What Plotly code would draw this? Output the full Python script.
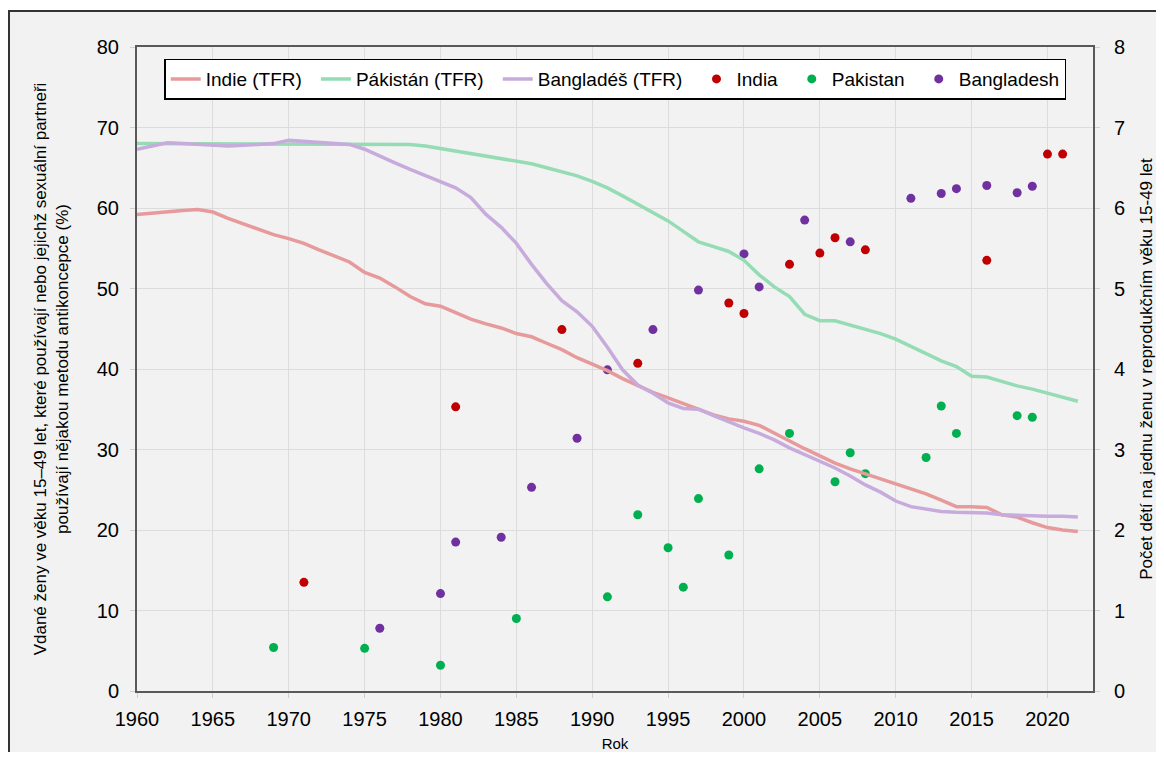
import plotly.graph_objects as go

# ---- data ----
years_tfr = list(range(1960, 2023))

india_tfr = [5.92, 5.94, 5.95, 5.97, 5.98, 5.95, 5.87, 5.80, 5.73, 5.67,
             5.62, 5.56, 5.48, 5.41, 5.33, 5.20, 5.13, 5.02, 4.90, 4.81,
             4.78, 4.70, 4.62, 4.56, 4.51, 4.44, 4.40, 4.32, 4.24, 4.14,
             4.06, 3.98, 3.88, 3.79, 3.71, 3.64, 3.57, 3.50, 3.43, 3.38,
             3.35, 3.30, 3.20, 3.10, 3.01, 2.92, 2.83, 2.76, 2.70, 2.64,
             2.57, 2.51, 2.45, 2.37, 2.29, 2.29, 2.28, 2.19, 2.16, 2.09,
             2.03, 2.00, 1.98]

pakistan_tfr = [6.80, 6.80, 6.80, 6.80, 6.80, 6.80, 6.80, 6.80, 6.80, 6.80,
                6.80, 6.80, 6.80, 6.80, 6.80, 6.80, 6.80, 6.80, 6.79, 6.77,
                6.74, 6.71, 6.68, 6.65, 6.62, 6.59, 6.55, 6.50, 6.45, 6.40,
                6.33, 6.25, 6.15, 6.05, 5.95, 5.84, 5.71, 5.58, 5.52, 5.46,
                5.35, 5.17, 5.02, 4.90, 4.68, 4.60, 4.60, 4.55, 4.50, 4.44,
                4.37, 4.28, 4.18, 4.10, 4.03, 3.91, 3.90, 3.84, 3.79, 3.75,
                3.70, 3.65, 3.60]

bangladesh_tfr = [6.73, 6.77, 6.81, 6.80, 6.79, 6.77, 6.77, 6.78, 6.79, 6.80,
                  6.84, 6.83, 6.81, 6.80, 6.79, 6.73, 6.64, 6.56, 6.48, 6.40,
                  6.33, 6.25, 6.13, 5.92, 5.76, 5.56, 5.30, 5.06, 4.85, 4.71,
                  4.53, 4.27, 3.99, 3.80, 3.70, 3.58, 3.51, 3.50, 3.42, 3.34,
                  3.27, 3.20, 3.12, 3.02, 2.94, 2.85, 2.77, 2.67, 2.56, 2.47,
                  2.36, 2.29, 2.26, 2.23, 2.22, 2.22, 2.21, 2.19, 2.18, 2.17,
                  2.17, 2.17, 2.16]

india_years = [1971, 1981, 1988, 1993, 1999, 2000, 2003, 2005, 2006, 2008, 2016, 2020, 2021]
india_pct = [13.5, 35.3, 44.9, 40.7, 48.2, 46.9, 53.0, 54.4, 56.3, 54.8, 53.5, 66.7, 66.7]

pakistan_years = [1969, 1975, 1980, 1985, 1991, 1993, 1995, 1996, 1997, 1999,
                  2001, 2003, 2006, 2007, 2008, 2012, 2013, 2014, 2018, 2019]
pakistan_pct = [5.4, 5.3, 3.2, 9.0, 11.7, 21.9, 17.8, 12.9, 23.9, 16.9,
                27.6, 32.0, 26.0, 29.6, 27.0, 29.0, 35.4, 32.0, 34.2, 34.0]

bangladesh_years = [1976, 1980, 1981, 1984, 1986, 1989, 1991, 1994, 1997, 2000,
                    2001, 2004, 2007, 2011, 2013, 2014, 2016, 2018, 2019]
bangladesh_pct = [7.8, 12.1, 18.5, 19.1, 25.3, 31.4, 39.9, 44.9, 49.8, 54.3,
                  50.2, 58.5, 55.8, 61.2, 61.8, 62.4, 62.8, 61.9, 62.7]

x_ticks = list(range(1960, 2021, 5))

# ---- figure ----
FONT = "Liberation Sans, Arial, sans-serif"
PAD = "\u00a0\u2009"
fig = go.Figure()

line_specs = [("Indie (TFR)", india_tfr, "#e79a9b"),
              ("Pákistán (TFR)", pakistan_tfr, "#95dcb4"),
              ("Bangladéš (TFR)", bangladesh_tfr, "#c6abdc")]
for name, vals, col in line_specs:
    fig.add_trace(go.Scatter(x=years_tfr, y=vals, name=name + PAD, mode="lines",
                             line=dict(color=col, width=3.5), yaxis="y2"))

pt_specs = [("India", india_years, india_pct, "#c00000", PAD),
            ("Pakistan", pakistan_years, pakistan_pct, "#00b050", PAD),
            ("Bangladesh", bangladesh_years, bangladesh_pct, "#7030a0", "")]
for name, xs, ys, col, pad in pt_specs:
    fig.add_trace(go.Scatter(x=xs, y=ys, name=name + pad, mode="markers",
                             marker=dict(color=col, size=9), yaxis="y"))

axis_common = dict(showline=True, linecolor="#595959", linewidth=2,
                   gridcolor="#dcdcdc", gridwidth=1, zeroline=False,
                   ticks="outside", ticklen=5, tickcolor="#d0d0d0",
                   automargin=False,
                   tickfont=dict(family=FONT, size=20, color="#000000"))

fig.update_layout(
    width=1148, height=744,
    margin=dict(l=129, r=63, t=39, b=61, autoexpand=False),
    paper_bgcolor="#ffffff",
    plot_bgcolor="#ffffff",
    font=dict(family=FONT, color="#000000"),
    xaxis=dict(range=[1960, 2023], tickvals=x_ticks, mirror=True,
               ticklabelstandoff=4,
               title=dict(text="Rok", font=dict(family=FONT, size=15), standoff=12),
               **axis_common),
    yaxis=dict(range=[0, 80], dtick=10, mirror=True, ticklabelstandoff=7,
               title=dict(text="Vdané ženy ve věku 15–49 let, které používají nebo jejichž sexuální partneři<br>používají nějakou metodu antikoncepce (%)",
                          font=dict(family=FONT, size=17), standoff=24),
               **axis_common),
    yaxis2=dict(range=[0, 8], dtick=1, overlaying="y", side="right",
                showgrid=False, showline=True, linecolor="#595959", linewidth=2,
                zeroline=False, ticks="outside", ticklen=5, tickcolor="#d0d0d0",
                ticklabelstandoff=10, automargin=False,
                tickfont=dict(family=FONT, size=20, color="#000000"),
                title=dict(text="Počet dětí na jednu ženu v reprodukčním věku 15-49 let",
                           font=dict(family=FONT, size=17), standoff=27)),
    legend=dict(orientation="h", x=0.0285, y=0.982, xanchor="left", yanchor="top",
                bgcolor="#ffffff", bordercolor="#000000", borderwidth=1.5,
                font=dict(family=FONT, size=19, color="#000000"),
                itemwidth=30, tracegroupgap=0),
    shapes=[dict(type="rect", xref="paper", yref="paper",
                 x0=-128 / 956, x1=1.2, y0=-0.2, y1=1 + 36 / 644,
                 fillcolor="#f2f2f2", line=dict(color="#333333", width=2),
                 layer="below")],
)

fig.write_html("out.html")
